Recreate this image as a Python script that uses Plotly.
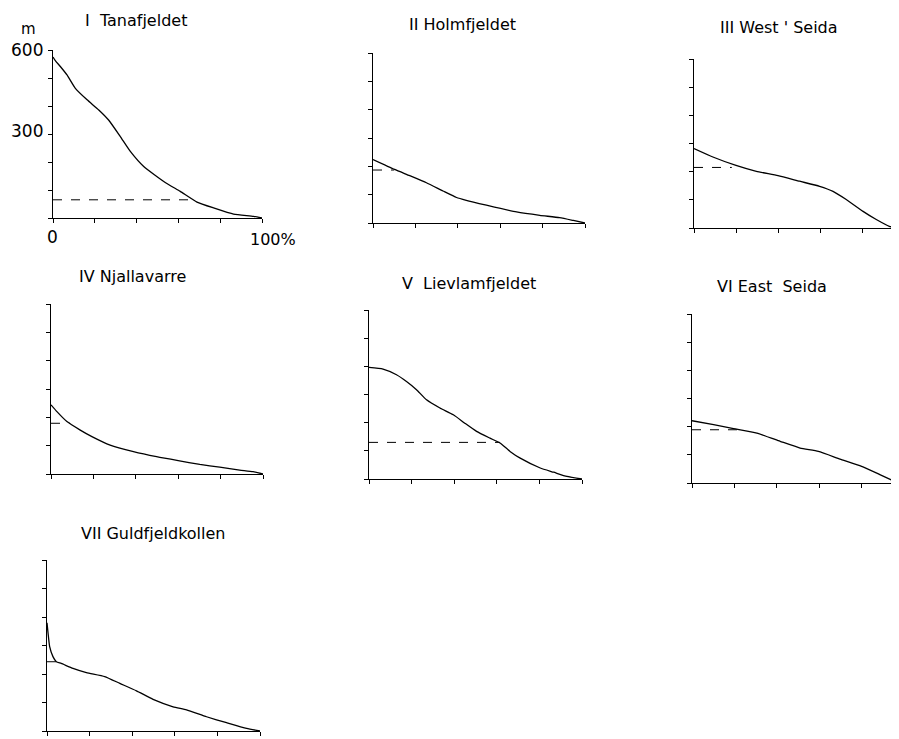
import plotly.graph_objects as go

W, H = 899, 739
OX, OY = 8, 8  # page body margin offset of the plot div

# ---- data (percent of area vs elevation in m) ----
titles = ["I  Tanafjeldet", "II Holmfjeldet", "III West ' Seida", "IV Njallavarre",
          "V  Lievlamfjeldet", "VI East  Seida", "VII Guldfjeldkollen"]

x1 = [0, 1.1, 3.5, 6.7, 10.7, 16.3, 21.9, 26.6, 32.2, 37, 43.4, 53.7, 60.9, 68.9, 76.9, 86.4, 96, 100]
y1 = [575, 562, 541, 511, 463, 422, 386, 350, 291, 238, 184, 127, 95, 57, 36, 14, 6, 0]

x2 = [0, 10.2, 17.3, 25.2, 33, 39.4, 44, 53.5, 67.7, 78.7, 88, 94.5, 100]
y2 = [224, 189, 167, 142, 113, 90, 80, 63, 39, 27, 19, 9, 0]

x3 = [0, 9, 20, 29.7, 40, 50.3, 59.8, 66.2, 72.5, 80.5, 86.8, 93, 97]
y3 = [282, 252, 222, 201, 186, 166, 148, 130, 101, 59, 30, 6, 0]

x4 = [0, 2.8, 7.5, 13.8, 19.3, 27.9, 38.9, 49.8, 60, 70.2, 79.6, 89, 95.3, 100]
y4 = [244, 220, 185, 155, 132, 102, 79, 61, 47, 34, 24, 14, 8, 0]

x5 = [0, 6.6, 12.9, 17.6, 22.3, 27, 33.3, 39.6, 45, 50.5, 56.8, 61.5, 66.2, 71, 80.4, 86.7, 92.9, 100]
y5 = [396, 390, 370, 346, 317, 281, 252, 228, 198, 169, 145, 128, 98, 74, 39, 24, 9, 0]

x6 = [0, 10.2, 19.6, 30.6, 41.6, 51, 59.6, 69.8, 80, 88.6, 97.3]
y6 = [221, 207, 193, 177, 148, 124, 112, 85, 59, 30, 0]

x7 = [0, 0.5, 1.25, 2.8, 4.4, 6.7, 12.2, 18.5, 27.1, 34.2, 42, 49.8, 59.2, 65.5, 74.9, 84.3, 93.7, 100]
y7 = [380, 343, 296, 261, 243, 237, 220, 205, 191, 167, 141, 111, 85, 74, 50, 29, 9, 0]

xs = [x1, x2, x3, x4, x5, x6, x7]
ys = [y1, y2, y3, y4, y5, y6, y7]

dash_level = [65, 187, 215, 179, 130, 189, 243]
dash_extent = [68.9, 10, 18, 9, 61.5, 22, 5]

x_ticks = [0, 20, 40, 60, 80, 100]
y_ticks = [0, 100, 200, 300, 400, 500, 600]

# ---- layout (pixel boxes: left, right(=100%), top(=600 m), bottom(=0)) ----
boxes = [(53, 262, 50, 218), (373, 585, 53, 223), (694, 904, 59, 228),
         (51, 263, 304, 474), (369, 582, 310, 479), (692, 904, 314, 483),
         (47, 260, 560, 731)]
title_pos = [(136, 20), (462, 24), (779, 28), (132, 276), (469, 283), (772, 286), (153, 533)]

FW, FH = W - OX, H - OY


def px_x(p):
    return (p - OX) / FW


def px_y(p):
    return 1 - (p - OY) / FH


FONT = "DejaVu Sans"
fig = go.Figure()
layout = {}
annotations = []
for i in range(7):
    n = "" if i == 0 else str(i + 1)
    l, r, t, b = boxes[i]
    xr = 100.0
    if r > W:  # panel cut off by the page edge
        xr = 100.0 * (W - l) / (r - l)
        r = W
    layout["xaxis" + n] = dict(domain=[px_x(l), min(px_x(r), 1.0)], range=[0, xr], anchor="y" + n,
                               showline=True, linecolor="black", linewidth=1.2,
                               ticks="outside", ticklen=4, tickcolor="black", tickwidth=1.2,
                               tickvals=x_ticks, showticklabels=False,
                               showgrid=False, zeroline=False, fixedrange=True)
    layout["yaxis" + n] = dict(domain=[px_y(b), px_y(t)], range=[0, 600], anchor="x" + n,
                               showline=True, linecolor="black", linewidth=1.2,
                               ticks="outside", ticklen=4, tickcolor="black", tickwidth=1.2,
                               tickvals=y_ticks, showticklabels=False,
                               showgrid=False, zeroline=False, fixedrange=True)
    fig.add_trace(go.Scatter(x=xs[i], y=ys[i], mode="lines", xaxis="x" + n, yaxis="y" + n,
                             line=dict(color="black", width=1.3, shape="spline", smoothing=0.5),
                             showlegend=False, hoverinfo="skip", cliponaxis=True))
    fig.add_trace(go.Scatter(x=[0, dash_extent[i]], y=[dash_level[i]] * 2, mode="lines",
                             xaxis="x" + n, yaxis="y" + n,
                             line=dict(color="black", width=1, dash="dash"),
                             showlegend=False, hoverinfo="skip"))
    tx, ty = title_pos[i]
    annotations.append(dict(x=px_x(tx), y=px_y(ty), xref="paper", yref="paper",
                            text=titles[i], showarrow=False, xanchor="center", yanchor="middle",
                            font=dict(family=FONT, size=16, color="black")))

# axis labels for panel I
for txt, px, py, sz in [("m", 28, 29, 15), ("600", 27, 50, 17), ("300", 27, 131, 17),
                        ("0", 52, 237, 17), ("100%", 273, 239, 16)]:
    annotations.append(dict(x=px_x(px), y=px_y(py), xref="paper", yref="paper", text=txt,
                            showarrow=False, xanchor="center", yanchor="middle",
                            font=dict(family=FONT, size=sz, color="black")))

fig.update_layout(width=FW, height=FH, margin=dict(l=0, r=0, t=0, b=0),
                  paper_bgcolor="white", plot_bgcolor="white",
                  annotations=annotations, **layout)
fig.write_html("out.html")
